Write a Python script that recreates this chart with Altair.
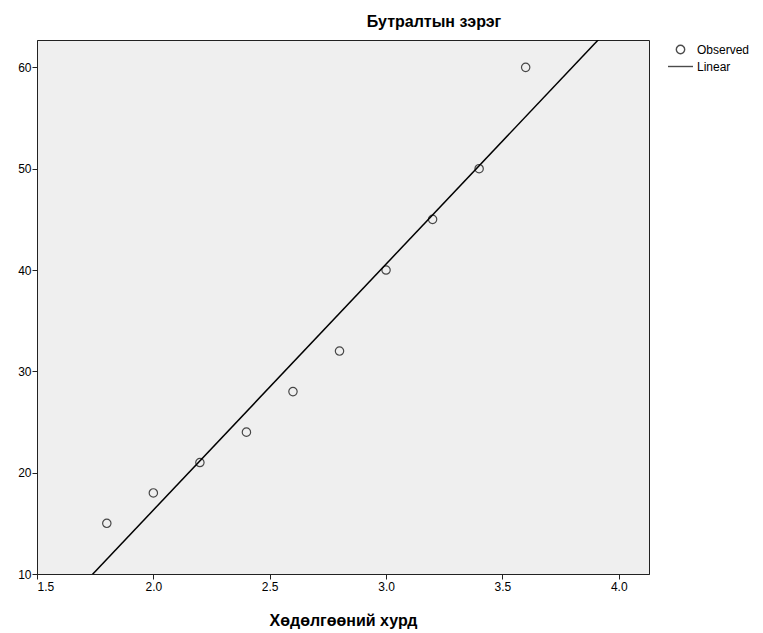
import altair as alt
import pandas as pd

speed = [1.8, 2.0, 2.2, 2.4, 2.6, 2.8, 3.0, 3.2, 3.4, 3.6]
degree = [15, 18, 21, 24, 28, 32, 40, 45, 50, 60]
series_names = ["Observed", "Linear"]
x_ticks = [1.5, 2.0, 2.5, 3.0, 3.5, 4.0]
y_ticks = [10, 20, 30, 40, 50, 60]

df = pd.DataFrame({"x": speed, "y": degree, "series": "Observed"})

FONT = "Liberation Sans"

xenc = alt.X("x:Q", title="Хөдөлгөөний хурд",
             scale=alt.Scale(domain=[1.5, 4.13], nice=False, zero=False),
             axis=alt.Axis(values=x_ticks, format=".1f", grid=False, tickSize=5,
                           labelFontSize=12, titleFontSize=16, titleFontWeight="bold",
                           titlePadding=20, labelPadding=2))
yenc = alt.Y("y:Q", title=None,
             scale=alt.Scale(domain=[10, 62.7], nice=False, zero=False),
             axis=alt.Axis(values=y_ticks, grid=False, tickSize=5, labelFontSize=12,
                           labelPadding=1))

legend_kw = dict(orient="none", legendX=630, legendY=3,
                 labelFontSize=12, labelFont=FONT, labelColor="black",
                 symbolStrokeColor="black", symbolStrokeWidth=1.4,
                 clipHeight=13, rowPadding=4, labelOffset=3)

points = alt.Chart(df).mark_point(filled=False, color="black", strokeWidth=1.2).encode(
    x=xenc, y=yenc,
    shape=alt.Shape("series:N", title=None,
                    scale=alt.Scale(domain=series_names, range=["circle", "stroke"]),
                    legend=alt.Legend(**legend_kw)),
    size=alt.Size("series:N", title=None,
                  scale=alt.Scale(domain=series_names, range=[70, 625]),
                  legend=alt.Legend(**legend_kw)),
)

line = alt.Chart(df).transform_regression(
    "x", "y", extent=[1.5, 4.2]
).mark_line(color="black", strokeWidth=1.5, clip=True).encode(x="x:Q", y="y:Q")

chart = alt.layer(points, line).properties(
    width=612, height=534,
    background="white",
    title=alt.TitleParams("Бутралтын зэрэг", fontSize=16, fontWeight="bold",
                          font=FONT, anchor="middle", dx=91, offset=10, color="black"),
    autosize=alt.AutoSizeParams(type="none"),
    padding={"left": 29, "top": 32, "right": 106, "bottom": 58},
).configure_view(
    fill="#efefef", stroke="#222222", strokeWidth=1
).configure_axis(
    domainColor="#222222", tickColor="#222222", labelColor="black", titleColor="black",
    labelFont=FONT, titleFont=FONT
)

chart.save("out.html", embed_options={"renderer": "svg", "actions": False})
